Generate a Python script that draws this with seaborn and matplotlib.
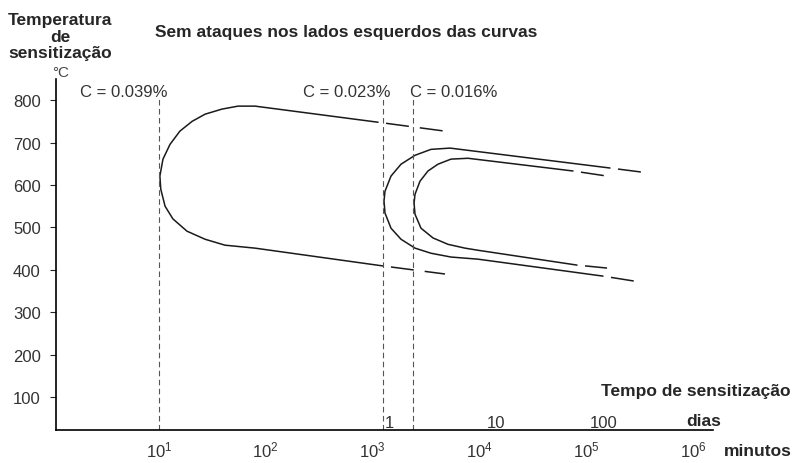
import pandas as pd
import matplotlib
matplotlib.use("Agg")
import matplotlib.pyplot as plt
import seaborn as sns
from matplotlib.ticker import FixedLocator, FixedFormatter

sns.set_style("white")
plt.rcParams['font.family'] = ["Liberation Sans", "DejaVu Sans"]
plt.rcParams['mathtext.default'] = "regular"
plt.rcParams['lines.scale_dashes'] = False

# %% curve data (minutes, degC)
curve039Min  = [1125, 79.3, 55.0, 38.9, 27.0, 20.4, 15.7, 12.7, 10.9, 10.2, 10.4,
                11.4, 13.5, 18.3, 27.0, 41.5, 79.3, 1250]
curve039Temp = [748, 786, 786, 779, 767, 750, 727, 696, 661, 621, 590,
                550, 520, 491, 472, 458, 451, 409]
ext039TopMin, ext039TopTemp = [1125, 4760], [748, 727]
ext039BotMin, ext039BotTemp = [1250, 4760], [409, 390]

curve023Min  = [167000, 5310, 3520, 2495, 1845, 1487, 1306, 1279, 1306, 1487, 1845,
                2495, 3520, 5420, 9700, 143600]
curve023Temp = [640, 687, 684, 670, 649, 621, 585, 562, 534, 498, 472,
                451, 439, 430, 425, 385]
ext023TopMin, ext023TopTemp = [167000, 340000], [640, 630]
ext023BotMin, ext023BotTemp = [143600, 286000], [385, 373]

curve016Min  = [75200, 7820, 5420, 4090, 3300, 2780, 2495, 2445, 2495, 2840, 3680,
                5080, 7330, 9700, 82000]
curve016Temp = [633, 663, 661, 649, 633, 609, 578, 557, 531, 498, 475,
                460, 451, 446, 411]
ext016TopMin, ext016TopTemp = [75200, 156700], [633, 621]
ext016BotMin, ext016BotTemp = [82000, 156700], [411, 404]

# carbon content lines
carbonLabels = ["C = 0.039%", "C = 0.023%", "C = 0.016%"]
carbonLineMin = [10, 1250, 2390]
carbonLineTop = 805

minuteTicks = [10, 100, 1000, 10000, 100000, 1000000]
dayTicks = [1, 10, 100]
dayTickLabels = ["1", "10", "100"]

# %% figure
fig = plt.figure(figsize=(7.97, 4.64), dpi=100)
ax = fig.add_axes([56/797, 33/464, 657/797, 351/464])
ax.set_xscale("log")

lineColor = "#1a1a1a"
extStyle = (18.7, (16.6, 7.9))

curves = [
    (curve039Min, curve039Temp, ext039TopMin, ext039TopTemp, ext039BotMin, ext039BotTemp),
    (curve023Min, curve023Temp, ext023TopMin, ext023TopTemp, ext023BotMin, ext023BotTemp),
    (curve016Min, curve016Temp, ext016TopMin, ext016TopTemp, ext016BotMin, ext016BotTemp),
]

for cMin, cTemp, tMin, tTemp, bMin, bTemp in curves:
    df = pd.DataFrame({"minutos": cMin, "temp": cTemp})
    sns.lineplot(data=df, x="minutos", y="temp", sort=False, estimator=None,
                 color=lineColor, lw=1.1, ax=ax)
    for eMin, eTemp in [(tMin, tTemp), (bMin, bTemp)]:
        dfExt = pd.DataFrame({"minutos": eMin, "temp": eTemp})
        sns.lineplot(data=dfExt, x="minutos", y="temp", sort=False, estimator=None,
                     color=lineColor, lw=1.1, linestyle=extStyle, ax=ax)

ax.vlines(carbonLineMin, 22, carbonLineTop, colors="#555555", lw=0.8,
          linestyles=(0, (4, 2.5)))

labelX = [4.7, 575, 5780]
for lx, lab in zip(labelX, carbonLabels):
    ax.text(lx, 821, lab, ha="center", va="center", fontsize=12, color="#333333")

ax.set_xlim(10**0.036, 10**6.187)
ax.set_ylim(22, 850)

ax.set_xticks(minuteTicks)
ax.xaxis.set_minor_locator(FixedLocator([d*1440 for d in dayTicks]))
ax.xaxis.set_minor_formatter(FixedFormatter(dayTickLabels))
ax.set_yticks(range(100, 900, 100))

ax.tick_params(axis="x", which="major", direction="out", length=3, width=0.8,
               pad=4, labelsize=12, labelcolor="#333333")
ax.tick_params(axis="x", which="minor", direction="in", length=5, width=0.8,
               pad=-10.8, labelsize=12, labelcolor="#333333")
ax.tick_params(axis="y", direction="out", length=4, width=0.8, left=True,
               pad=7, labelsize=12, labelcolor="#333333")
ax.set_xlabel("")
ax.set_ylabel("")

sns.despine(ax=ax)
for s in ["left", "bottom"]:
    ax.spines[s].set_color("black")
    ax.spines[s].set_linewidth(1.2)

# %% texts around the axes (positions in pixels)
def px(x, y):
    return x/797, 1 - y/464

fig.text(*px(60, 37), "Temperatura\nde\nsensitização", ha="center", va="center",
         fontsize=12.5, fontweight="bold", linespacing=1.1)
fig.text(*px(61, 73), "°C", ha="center", va="center", fontsize=11, color="#444444")
fig.text(*px(346, 33), "Sem ataques nos lados esquerdos das curvas", ha="center",
         va="center", fontsize=12.5, fontweight="bold")
fig.text(*px(696, 392), "Tempo de sensitização", ha="center", va="center",
         fontsize=12.5, fontweight="bold")
fig.text(*px(704, 422), "dias", ha="center", va="center", fontsize=12.5, fontweight="bold")
fig.text(*px(758, 452), "minutos", ha="center", va="center", fontsize=12.5, fontweight="bold")

plt.savefig("out.png", dpi=100)
